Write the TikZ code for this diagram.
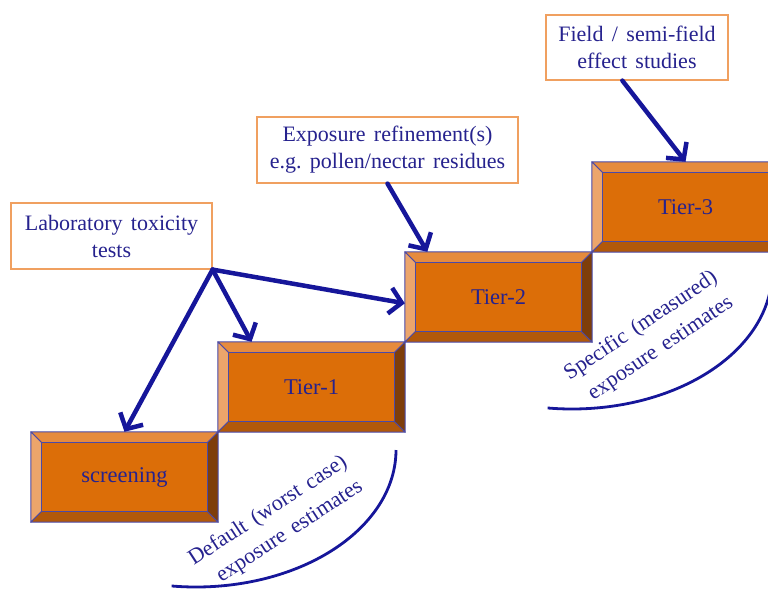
\documentclass[tikz,border=0pt]{standalone}
\usepackage{fontspec}
\setmainfont{Liberation Serif}
\usetikzlibrary{calc,arrows.meta}
\definecolor{txtblue}{HTML}{26228E}
\definecolor{arrblue}{HTML}{16169A}
\definecolor{edgeblue}{HTML}{4A4AA8}
\definecolor{bvtop}{HTML}{E68B3D}
\definecolor{bvleft}{HTML}{ECA56B}
\definecolor{bvbot}{HTML}{B2590A}
\definecolor{bvright}{HTML}{7E3E0A}
\definecolor{face}{HTML}{DC6E08}
\definecolor{lblborder}{HTML}{F0A060}
\newcommand\ws{\hspace{0.38em}}
\tikzset{
  tierbox/.style={minimum width=187pt,minimum height=90pt,inner sep=0pt,text=txtblue,font=\fontsize{22.5}{27}\selectfont},
  lblbox/.style={draw=lblborder,line width=1.2pt,fill=white,text=txtblue,align=center,inner sep=0pt,font=\fontsize{22}{27}\selectfont},
  arr/.style={draw=arrblue,line width=4.5pt,line cap=round,line join=round,-{Straight Barb[length=12pt,width=26pt]}},
  bracket/.style={draw=arrblue,line width=2.8pt},
  arctext/.style={text=txtblue,font=\fontsize{22}{27}\selectfont,inner sep=0pt},
}
\newcommand\bevel[1]{%
  \coordinate (A) at (#1.north west);
  \coordinate (B) at (#1.north east);
  \coordinate (C) at (#1.south east);
  \coordinate (D) at (#1.south west);
  \coordinate (a) at ($(A)+(11pt,-11pt)$);
  \coordinate (b) at ($(B)+(-11pt,-11pt)$);
  \coordinate (c) at ($(C)+(-11pt,11pt)$);
  \coordinate (d) at ($(D)+(11pt,11pt)$);
  \begin{scope}[draw=edgeblue,line width=1pt,line join=round]
  \filldraw[fill=bvtop] (A)--(B)--(b)--(a)--cycle;
  \filldraw[fill=bvleft] (A)--(a)--(d)--(D)--cycle;
  \filldraw[fill=bvbot] (D)--(d)--(c)--(C)--cycle;
  \filldraw[fill=bvright] (B)--(C)--(c)--(b)--cycle;
  \filldraw[fill=face] (a) rectangle (c);
  \end{scope}
}
\begin{document}
\begin{tikzpicture}[x=1pt,y=-1pt]
\useasboundingbox (0,0) rectangle (768,590);
\begin{scope}
\clip (0,0) rectangle (768,590);
% tier boxes
\node[tierbox] (scr) at (124.5,477) {};
\node[tierbox] (t1) at (311.5,387) {};
\node[tierbox] (t2) at (498.5,297) {};
\node[tierbox] (t3) at (685.5,207) {};
\bevel{scr}\bevel{t1}\bevel{t2}\bevel{t3}
\node[tierbox] (scrt) at (scr.center) {screening};
\node[tierbox] (t1t) at (t1.center) {Tier-1};
\node[tierbox] (t2t) at (t2.center) {Tier-2};
\node[tierbox] (t3t) at (t3.center) {Tier-3};
% curved brackets
\draw[bracket] plot[domain=0:97,samples=50,smooth] ({196+200*cos(\x)},{450+137*sin(\x)});
\draw[bracket] plot[domain=0:97,samples=50,smooth] ({572+200*cos(\x)},{272+137*sin(\x)});
\node[arctext,rotate=33] (dft1) at (268,511) {Default\ws(worst\ws case)};
\node[arctext,rotate=33] (dft2) at (290,532) {exposure\ws estimates};
\node[arctext,rotate=34] (spc1) at (641,326) {Specific\ws(measured)};
\node[arctext,rotate=34] (spc2) at (661,349) {exposure\ws estimates};
% label boxes
\node[lblbox,minimum width=201pt,minimum height=66pt] (lab) at (111.5,236) {Laboratory\ws toxicity\\tests};
\node[lblbox,minimum width=261pt,minimum height=66pt] (exp) at (387.5,150) {Exposure\ws refinement(s)\\e.g.\ws pollen/nectar\ws residues};
\node[lblbox,minimum width=182pt,minimum height=65pt] (fld) at (637,47.5) {Field\ws/\ws semi-field\\effect\ws studies};
% arrows
\draw[arr] (lab.south east) -- (scr.north);
\draw[arr] (lab.south east) -- ($(t1.north west)!0.18!(t1.north east)$);
\draw[arr] (lab.south east) -- ($(t2.north west)!0.57!(t2.south west)$);
\draw[arr] (exp.south) -- ($(t2.north west)!0.12!(t2.north east)$);
\draw[arr] ($(fld.south west)!0.42!(fld.south east)$) -- (t3.north);
\end{scope}
\end{tikzpicture}
\end{document}
